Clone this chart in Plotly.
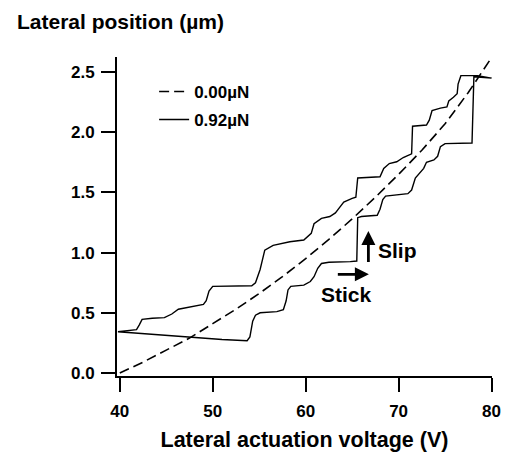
import plotly.graph_objects as go

# Dashed reference curve (0.00 µN)
v_ref = [40, 42.5, 45, 47.5, 50, 52.5, 55, 57.5, 60, 62.5, 65, 67.5, 70, 72.5, 75, 77.5, 80]
pos_ref = [0.0, 0.09, 0.19, 0.29, 0.41, 0.53, 0.66, 0.80, 0.95, 1.11, 1.28, 1.46, 1.65, 1.85, 2.07, 2.33, 2.62]

# Stick-slip loop (0.92 µN): lower branch (increasing voltage) then upper branch (decreasing)
v_loop = [39.8, 42, 45, 48.6, 51, 53.7, 54.0, 54.3, 54.6, 55.1, 56.9, 57.6, 57.9, 58.1, 58.4,
          59.8, 60.5, 60.9, 61.3, 61.7, 62.5, 64.8, 65.5, 65.6, 66.0, 67.7, 68.0, 68.3, 68.6,
          71.0, 71.4, 71.8, 72.3, 72.7, 73.0, 73.8, 74.2, 74.5, 75.0, 77.9, 78.1, 80.0,
          78.5, 76.7, 76.4, 76.3, 75.9, 75.4, 75.2, 74.5, 73.6, 73.3, 73.0, 71.5, 71.4,
          70.5, 69.8, 69.0, 68.4, 68.0, 65.6, 65.4, 65.0, 64.1, 63.7, 63.2, 62.6, 61.7,
          60.9, 60.6, 59.8, 58.3, 56.5, 55.6, 55.1, 54.6, 54.2, 50.0, 49.6, 49.3, 49.0,
          47.5, 46.3, 45.6, 44.8, 43.5, 42.4, 42.1, 41.8, 39.8]
pos_loop = [0.343, 0.33, 0.316, 0.29, 0.278, 0.268, 0.30, 0.43, 0.48, 0.50, 0.51, 0.525, 0.60, 0.69, 0.72,
            0.73, 0.76, 0.80, 0.87, 0.91, 0.92, 0.925, 0.93, 1.29, 1.30, 1.31, 1.36, 1.44, 1.47,
            1.49, 1.52, 1.62, 1.66, 1.70, 1.75, 1.77, 1.80, 1.88, 1.905, 1.91, 2.46, 2.45,
            2.47, 2.47, 2.40, 2.32, 2.29, 2.26, 2.21, 2.20, 2.18, 2.10, 2.06, 2.05, 1.82,
            1.79, 1.755, 1.74, 1.70, 1.63, 1.62, 1.46, 1.45, 1.42, 1.38, 1.33, 1.30, 1.285,
            1.24, 1.16, 1.105, 1.09, 1.06, 1.02, 0.86, 0.75, 0.725, 0.72, 0.68, 0.60, 0.57,
            0.55, 0.53, 0.49, 0.46, 0.455, 0.445, 0.40, 0.36, 0.343]

x_ticks = [40, 50, 60, 70, 80]
y_ticks = [0.0, 0.5, 1.0, 1.5, 2.0, 2.5]
y_tick_text = ["0.0", "0.5", "1.0", "1.5", "2.0", "2.5"]

FONT = "Liberation Sans, Arial, sans-serif"
W, H = 509, 452
ML, MR, MT, MB = 117, 17, 57, 76
PW, PH = W - ML - MR, H - MT - MB

fig = go.Figure()
fig.add_trace(go.Scatter(x=v_ref, y=pos_ref, mode="lines", name="<b>0.00µN</b>", legendgroup="a",
                         line=dict(color="black", width=1.6, dash="10px,5px")))
fig.add_trace(go.Scatter(x=v_loop, y=pos_loop, mode="lines", name="<b>0.92µN</b>", legendgroup="b",
                         line=dict(color="black", width=1.4)))

# Slip / Stick arrows
fig.add_annotation(x=66.75, y=1.18, ax=66.75, ay=0.91, xref="x", yref="y", axref="x", ayref="y",
                   text="", showarrow=True, arrowhead=2, arrowsize=1, arrowwidth=2.8, arrowcolor="black")
fig.add_annotation(x=66.8, y=0.82, ax=63.3, ay=0.82, xref="x", yref="y", axref="x", ayref="y",
                   text="", showarrow=True, arrowhead=2, arrowsize=1, arrowwidth=2.8, arrowcolor="black")
fig.add_annotation(x=67.6, y=1.02, xref="x", yref="y", text="<b>Slip</b>", showarrow=False,
                   xanchor="left", font=dict(family=FONT, size=21, color="black"))
fig.add_annotation(x=64.4, y=0.65, xref="x", yref="y", text="<b>Stick</b>", showarrow=False,
                   xanchor="center", font=dict(family=FONT, size=21, color="black"))

# Y-axis title at top-left
fig.add_annotation(x=(15 - ML) / PW, y=(H - MB - 21) / PH, xref="paper", yref="paper",
                   text="<b>Lateral position (µm)</b>",
                   showarrow=False, xanchor="left", yanchor="middle",
                   font=dict(family=FONT, size=21, color="black"))

fig.update_layout(
    width=W, height=H,
    margin=dict(l=ML, r=MR, t=MT, b=MB, autoexpand=False),
    plot_bgcolor="white", paper_bgcolor="white",
    showlegend=True,
    legend=dict(x=0.099, y=0.947, xanchor="left", yanchor="top", bgcolor="rgba(0,0,0,0)",
                font=dict(family=FONT, size=17, color="black"), tracegroupgap=3,
                traceorder="grouped"),
    font=dict(family=FONT, color="black"),
)
fig.update_xaxes(range=[39.7, 80.05], tickvals=x_ticks, ticktext=[f"<b>{t}</b>" for t in x_ticks],
                 showline=True, linecolor="black", linewidth=2, ticks="outside", ticklen=14,
                 tickwidth=2, tickcolor="black", showgrid=False, zeroline=False,
                 ticklabelstandoff=5, automargin=False,
                 tickfont=dict(family=FONT, size=17, color="black"),
                 title=dict(text="<b>Lateral actuation voltage (V)</b>",
                            font=dict(family=FONT, size=21.5, color="black"), standoff=12))
fig.update_yaxes(range=[-0.025, 2.625], tickvals=y_ticks, ticktext=[f"<b>{t}</b>" for t in y_tick_text],
                 showline=True, linecolor="black", linewidth=2, ticks="outside", ticklen=14,
                 tickwidth=2, tickcolor="black", showgrid=False, zeroline=False,
                 ticklabelstandoff=3, automargin=False,
                 tickfont=dict(family=FONT, size=17, color="black"))

fig.write_html("out.html", config={"displayModeBar": False},
               post_script="document.body.style.margin='0';")
